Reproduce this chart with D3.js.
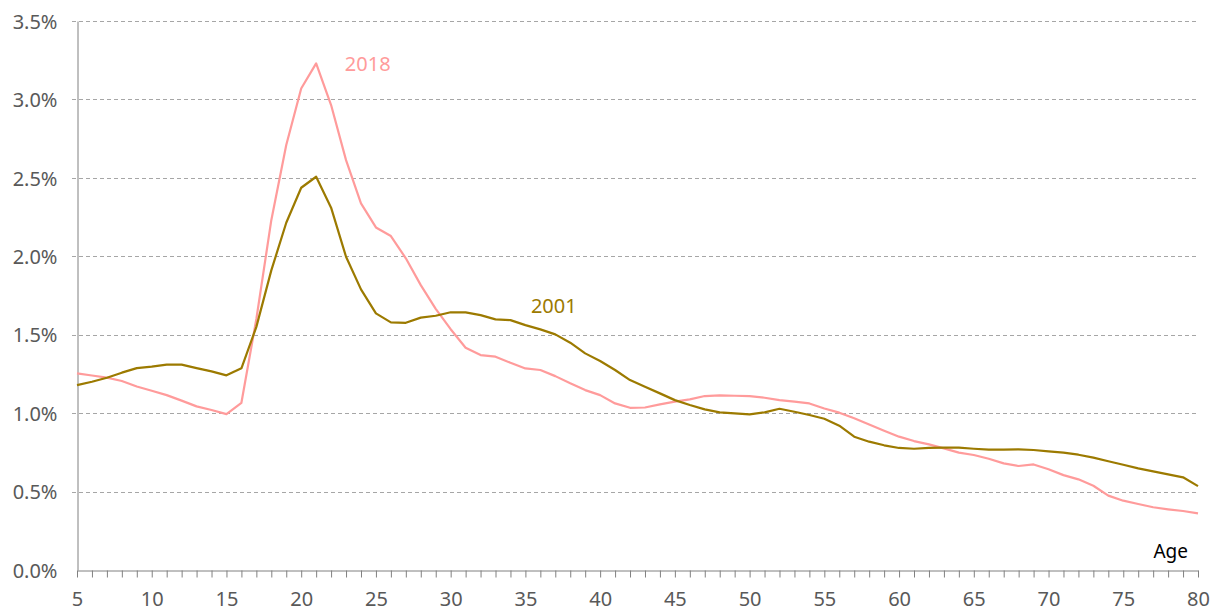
<!DOCTYPE html>
<html lang="en">
<head>
  <meta charset="UTF-8">
  <title>Share by age</title>
  <script src="https://d3js.org/d3.v7.min.js"></script>
  <style>
    body { margin: 0; background: #fff; font-family: "Noto Sans", sans-serif; }
    svg { display: block; }
  </style>
</head>
<body>
  <svg id="chart" width="1215" height="610"></svg>

<script>
  // Ages 5..80, share of population (%)
  const ages = d3.range(5, 81);

  const share2018 = [
    1.254, 1.240, 1.226, 1.205, 1.170, 1.143, 1.115, 1.080, 1.043, 1.020,
    0.994, 1.066, 1.600, 2.230, 2.709, 3.070, 3.230, 2.964, 2.613, 2.337,
    2.184, 2.129, 1.987, 1.816, 1.665, 1.535, 1.417, 1.370, 1.360, 1.321,
    1.285, 1.275, 1.236, 1.190, 1.147, 1.115, 1.062, 1.034, 1.036, 1.056,
    1.073, 1.088, 1.109, 1.113, 1.111, 1.109, 1.098, 1.083, 1.073, 1.062,
    1.030, 1.003, 0.967, 0.928, 0.888, 0.850, 0.822, 0.801, 0.775, 0.748,
    0.733, 0.709, 0.680, 0.663, 0.673, 0.642, 0.605, 0.578, 0.537, 0.474,
    0.442, 0.421, 0.400, 0.387, 0.376, 0.361
  ];

  const share2001 = [
    1.179, 1.200, 1.226, 1.258, 1.287, 1.296, 1.309, 1.309, 1.287, 1.266,
    1.241, 1.286, 1.550, 1.910, 2.214, 2.437, 2.507, 2.310, 1.997, 1.789,
    1.636, 1.579, 1.576, 1.609, 1.621, 1.643, 1.642, 1.625, 1.598, 1.593,
    1.561, 1.534, 1.502, 1.449, 1.381, 1.332, 1.275, 1.211, 1.168, 1.126,
    1.083, 1.052, 1.024, 1.005, 0.998, 0.992, 1.005, 1.028, 1.009, 0.988,
    0.964, 0.920, 0.850, 0.818, 0.795, 0.778, 0.773, 0.778, 0.780, 0.780,
    0.773, 0.767, 0.767, 0.769, 0.765, 0.756, 0.748, 0.735, 0.716, 0.693,
    0.671, 0.648, 0.629, 0.610, 0.591, 0.535
  ];

  const yTicks = [0, 0.5, 1.0, 1.5, 2.0, 2.5, 3.0, 3.5];
  const xTicks = [5, 10, 15, 20, 25, 30, 35, 40, 45, 50, 55, 60, 65, 70, 75, 80];

  const series = [
    { name: "2018", values: share2018, color: "#ff9b9b", labelAge: 24.45, labelValue: 3.18 },
    { name: "2001", values: share2001, color: "#9c7a00", labelAge: 36.9, labelValue: 1.636 }
  ];

  const svg = d3.select("#chart");
  const width = +svg.attr("width");
  const height = +svg.attr("height");
  const margin = { top: 21, right: 17, bottom: 40, left: 77 };

  const x = d3.scaleLinear()
    .domain([5, 80])
    .range([margin.left, width - margin.right]);

  const y = d3.scaleLinear()
    .domain([0, 3.5])
    .range([height - margin.bottom, margin.top]);

  // Gridlines (dashed)
  svg.append("g")
    .selectAll("line")
    .data(yTicks.filter(d => d > 0))
    .join("line")
    .attr("x1", margin.left - 5)
    .attr("x2", width - margin.right)
    .attr("y1", d => Math.round(y(d)) + 0.5)
    .attr("y2", d => Math.round(y(d)) + 0.5)
    .attr("stroke", "#a6a6a6")
    .attr("stroke-width", 1)
    .attr("stroke-dasharray", "4,3");

  // Y axis
  const yAxis = svg.append("g")
    .attr("transform", `translate(${margin.left + 0.5},0)`)
    .call(d3.axisLeft(y).tickValues(yTicks).tickSize(0).tickPadding(20)
      .tickFormat(d => d.toFixed(1) + "%"));
  yAxis.select(".domain").attr("stroke", "#808080");
  yAxis.selectAll("text")
    .attr("fill", "#595959")
    .attr("dy", "0.36em")
    .style("font-family", "'Noto Sans', sans-serif")
    .style("font-size", "20px");

  // X axis
  const xAxis = svg.append("g")
    .attr("transform", `translate(0,${height - margin.bottom + 0.5})`)
    .call(d3.axisBottom(x).tickValues(ages).tickSize(7).tickSizeOuter(0)
      .tickFormat(d => xTicks.includes(d) ? d : ""));
  xAxis.select(".domain").attr("stroke", "#808080");
  xAxis.selectAll(".tick line").attr("stroke", "#808080");
  xAxis.selectAll("text")
    .attr("fill", "#595959")
    .attr("y", 35)
    .attr("dy", null)
    .style("font-family", "'Noto Sans', sans-serif")
    .style("font-size", "20px");

  // Lines
  const line = d3.line()
    .x((d, i) => x(ages[i]))
    .y(d => y(d));

  svg.append("g")
    .selectAll("path")
    .data(series)
    .join("path")
    .attr("d", d => line(d.values))
    .attr("fill", "none")
    .attr("stroke", d => d.color)
    .attr("stroke-width", 2.2)
    .attr("stroke-linejoin", "round");

  // Series labels
  svg.append("g")
    .selectAll("text")
    .data(series)
    .join("text")
    .attr("x", d => x(d.labelAge))
    .attr("y", d => y(d.labelValue))
    .attr("text-anchor", "middle")
    .attr("fill", d => d.color)
    .style("font-family", "'Noto Sans', sans-serif")
    .style("font-size", "20px")
    .text(d => d.name);

  // Axis title
  svg.append("text")
    .attr("x", width - margin.right - 10)
    .attr("y", height - margin.bottom - 12)
    .attr("text-anchor", "end")
    .attr("fill", "#000")
    .style("font-family", "'Noto Sans', sans-serif")
    .style("font-size", "19px")
    .text("Age");
</script>
</body>
</html>
